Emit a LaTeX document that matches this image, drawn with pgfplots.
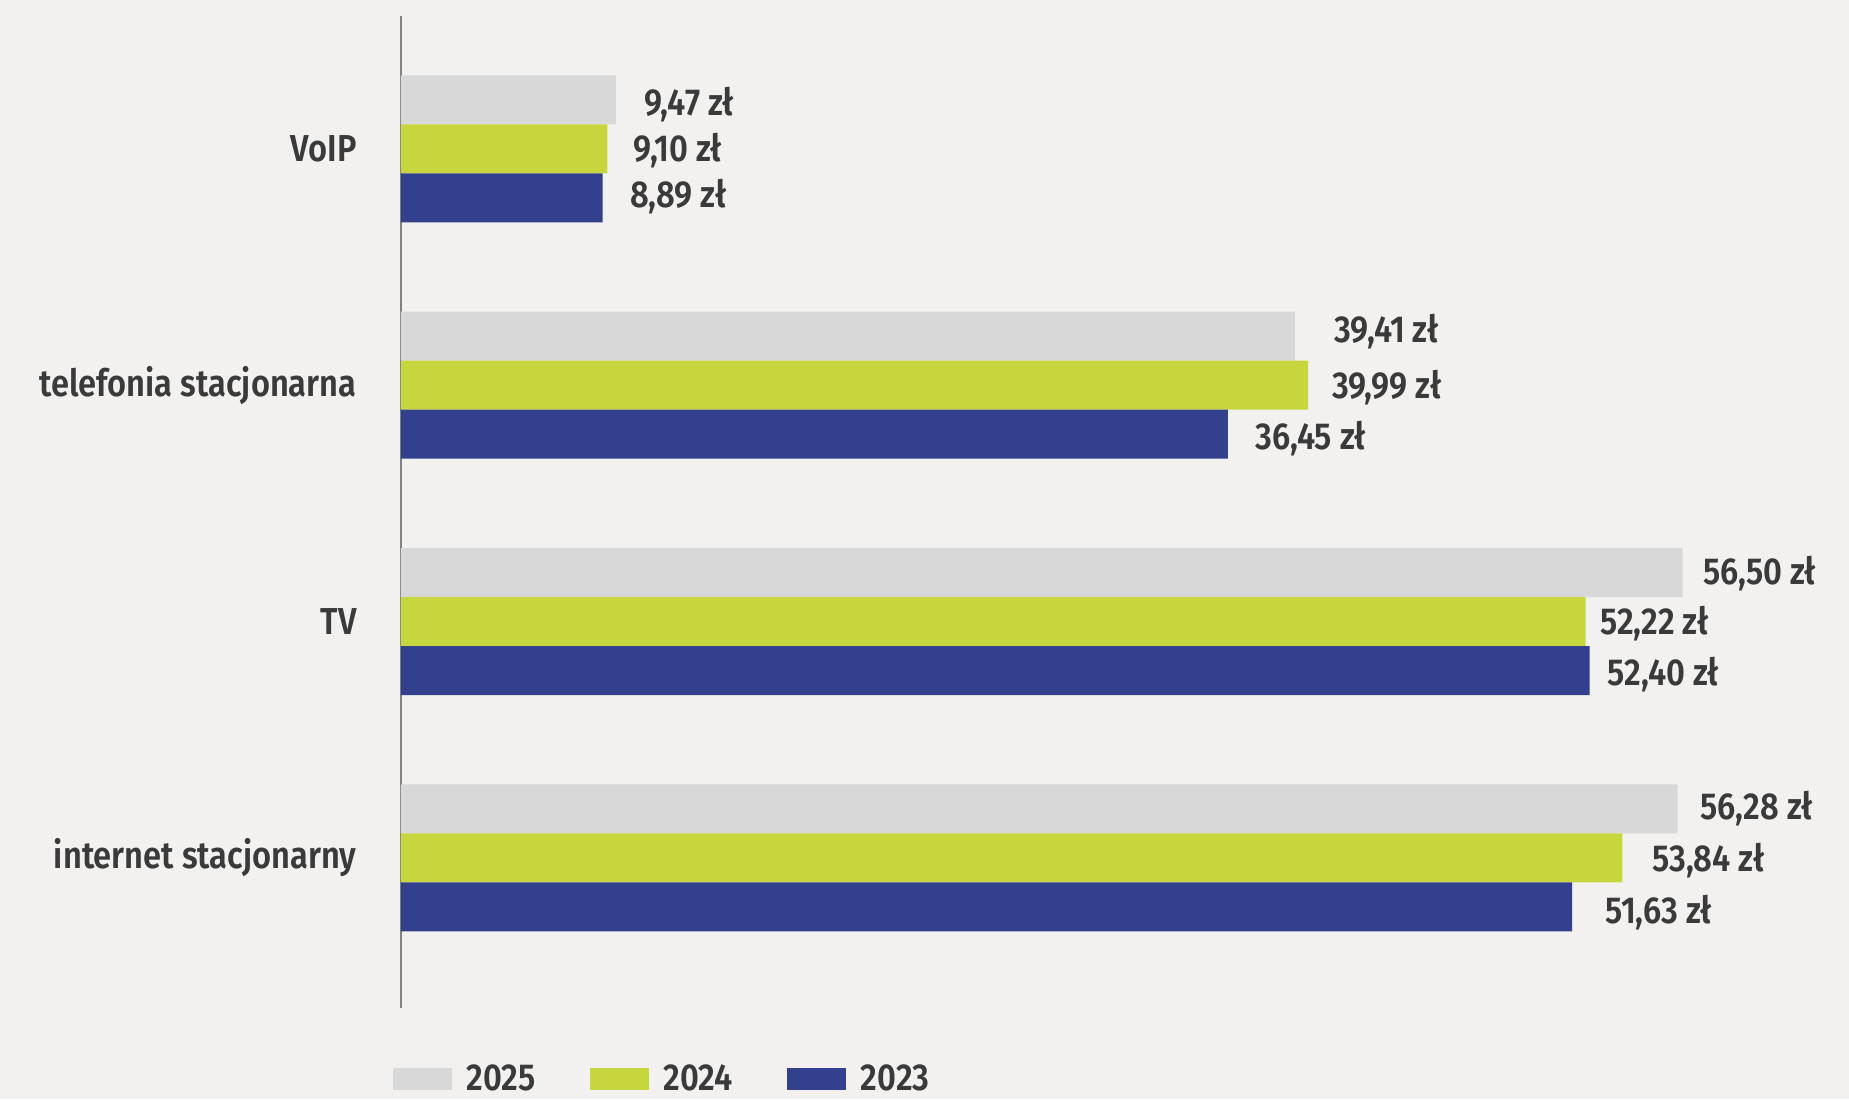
\documentclass[border=0pt]{standalone}
\usepackage{pgfplots}
\usepackage{pgfplotstable}
\pgfplotsset{compat=1.18}
\usepackage{fontspec}
\setmainfont{Fira Sans}[FakeStretch=0.87, BoldFont={Fira Sans SemiBold}]
\definecolor{bg}{RGB}{242,241,239}
\definecolor{c25}{RGB}{216,216,216}
\definecolor{c24}{RGB}{200,214,62}
\definecolor{c23}{RGB}{50,64,142}
\definecolor{txt}{RGB}{58,58,58}
\definecolor{axisc}{RGB}{130,130,130}
\newcommand{\lbl}{\fontsize{15}{18}\selectfont\bfseries}
% value, y position, label x-offset (pt), label y-offset (pt)
\pgfplotstableread{
v y dx dy
56.28 0.2074 9.0 0.0
56.50 1.2074 8.0 -0.5
39.41 2.2074 15.6 1.9
9.47 3.2074 11.3 -1.9
}\dA
\pgfplotstableread{
v y dx dy
53.84 0 11.8 -0.9
52.22 1 5.7 -0.9
39.99 2 9.4 -0.9
9.10 3 10.4 -0.5
}\dB
\pgfplotstableread{
v y dx dy
51.63 -0.2074 13.2 -2.4
52.40 0.7926 7.1 -1.4
36.45 1.7926 10.8 -1.9
8.89 2.7926 10.8 0.5
}\dC
\begin{document}
\begin{tikzpicture}
\fill[bg] (0pt,0pt) rectangle (739.6pt,439.6pt);
\path[use as bounding box] (0pt,0pt) rectangle (739.6pt,439.6pt);
\begin{axis}[
  at={(160.4pt,36.4pt)}, anchor=south west,
  scale only axis, width=544.4pt, height=396.8pt,
  xmin=0, xmax=60, ymin=-0.635, ymax=3.562,
  axis x line=none, axis y line*=left,
  y axis line style={axisc, line width=0.8pt, -},
  ytick={0,1,2,3},
  yticklabels={internet stacjonarny, TV, telefonia stacjonarna, VoIP},
  major tick length=0pt,
  yticklabel style={anchor=east, inner sep=0pt, xshift=-17.6pt, font=\lbl, text=txt},
  xbar, bar width=0.2074, bar shift=0pt,
  point meta=x,
  visualization depends on={\thisrow{dx} \as \dx},
  visualization depends on={\thisrow{dy} \as \dy},
  nodes near coords={\pgfmathprintnumber[fixed, fixed zerofill, precision=2, use comma, assume math mode=true]{\pgfplotspointmeta}~zł},
  every node near coord/.append style={anchor=west, inner sep=0pt, xshift=\dx pt, yshift=\dy pt, font=\lbl, text=txt},
  legend columns=3,
  legend style={at={(-0.0066,-0.072)}, anchor=west, draw=none, fill=none, inner sep=0pt,
    nodes={inner sep=0pt},
    font=\lbl, text=txt, /tikz/every even column/.append style={column sep=21.6pt}},
  legend image code/.code={\fill[#1] (0pt,-4.4pt) rectangle (23.6pt,4.4pt); \path (29.6pt,0pt);},
]
\addplot[draw=none, fill=c25] table[x=v, y=y] {\dA};
\addplot[draw=none, fill=c24] table[x=v, y=y] {\dB};
\addplot[draw=none, fill=c23] table[x=v, y=y] {\dC};
\legend{2025,2024,2023}
\end{axis}
\end{tikzpicture}
\end{document}
